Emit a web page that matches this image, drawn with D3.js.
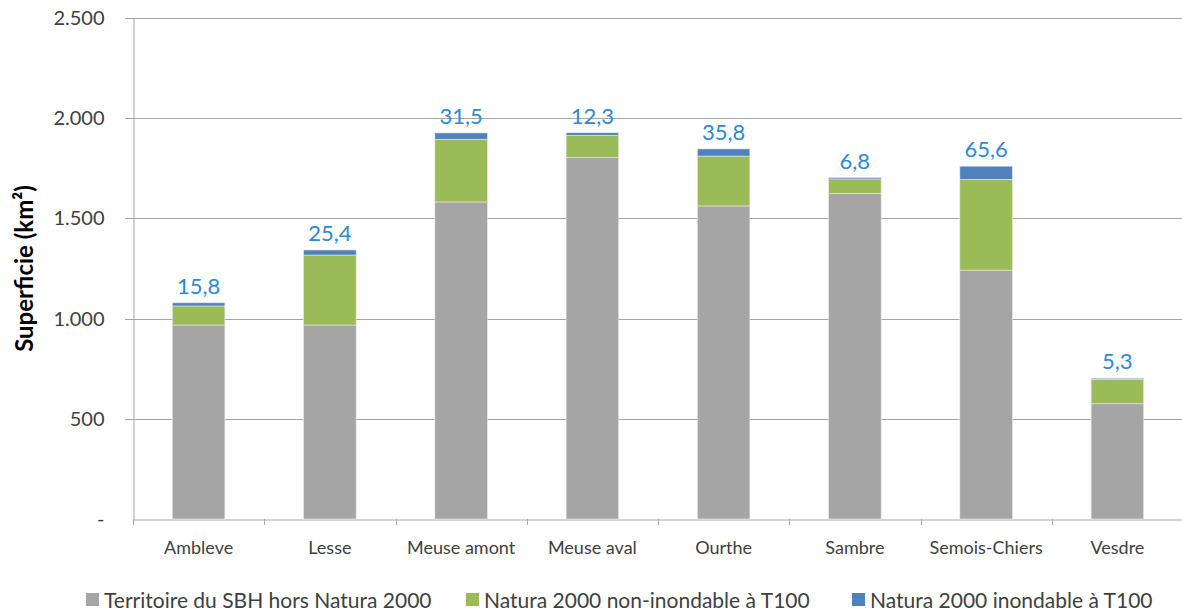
<!DOCTYPE html>
<html>
<head>
<meta charset="utf-8">
<script src="https://cdn.jsdelivr.net/npm/d3@7"></script>
<style>
  body { margin: 0; background: #fff; }
  svg, svg text { font-family: Lato, "Open Sans", sans-serif; }
</style>
</head>
<body>
<svg id="chart"></svg>
<script>
// bassins et surfaces (km²)
var categories = ["Ambleve", "Lesse", "Meuse amont", "Meuse aval", "Ourthe", "Sambre", "Semois-Chiers", "Vesdre"];
var horsNatura = [968, 968, 1582, 1805, 1562, 1625, 1242, 575];
var nonInondable = [95, 349, 313, 110, 249, 72, 453, 122];
var inondable = [15.8, 25.4, 31.5, 12.3, 35.8, 6.8, 65.6, 5.3];
var seriesNames = ["Territoire du SBH hors Natura 2000", "Natura 2000 non-inondable à T100", "Natura 2000 inondable à T100"];
var yTicks = [0, 500, 1000, 1500, 2000, 2500];

var colors = ["#a5a5a5", "#9bbb59", "#4f81bd"];

var W = 1182, H = 615;
var margin = { top: 18, right: 0, bottom: 96, left: 133 };

var svg = d3.select("#chart")
    .attr("width", W)
    .attr("height", H);

var x = d3.scaleBand()
    .domain(categories)
    .range([margin.left, 1183])
    .paddingInner(0.6)
    .paddingOuter(0.3);

var y = d3.scaleLinear()
    .domain([0, 2500])
    .range([H - margin.bottom, margin.top]);

var frLocale = d3.formatLocale({ decimal: ",", thousands: ".", grouping: [3], currency: ["", "€"] });
var fmtInt = frLocale.format(",.0f");
var fmtDec = frLocale.format(".1f");

// grille horizontale
svg.append("g")
    .selectAll("line")
    .data(yTicks.slice(1))
    .join("line")
    .attr("x1", margin.left - 8)
    .attr("x2", W)
    .attr("y1", function (d) { return Math.round(y(d)) + 0.5; })
    .attr("y2", function (d) { return Math.round(y(d)) + 0.5; })
    .attr("stroke", "#a6a6a6")
    .attr("stroke-width", 1);

// axe Y
var yAxis = d3.axisLeft(y)
    .tickValues(yTicks)
    .tickSize(0)
    .tickPadding(29)
    .tickFormat(function (d) { return d === 0 ? "-" : fmtInt(d); });

var gy = svg.append("g")
    .attr("transform", "translate(" + (margin.left + 0.5) + ",0)")
    .call(yAxis)
    .attr("font-family", null);
gy.select(".domain").attr("stroke", "#a6a6a6");
gy.selectAll("text")
    .attr("fill", "#404040")
    .style("font-size", "20px");

// axe X
var xAxis = d3.axisBottom(x).tickSize(0).tickPadding(22);
var gx = svg.append("g")
    .attr("transform", "translate(0," + (Math.round(y(0)) + 0.5) + ")")
    .call(xAxis)
    .attr("font-family", null);
gx.select(".domain").attr("stroke", "#a6a6a6");
gx.selectAll("text")
    .attr("fill", "#404040")
    .style("font-size", "18px");

// petites graduations aux limites des catégories
var step = x.step();
svg.append("g")
    .selectAll("line")
    .data(categories)
    .join("line")
    .attr("x1", function (c) { return Math.round(x(c) + x.bandwidth() / 2 - step / 2) + 0.5; })
    .attr("x2", function (c) { return Math.round(x(c) + x.bandwidth() / 2 - step / 2) + 0.5; })
    .attr("y1", y(0))
    .attr("y2", y(0) + 6)
    .attr("stroke", "#a6a6a6");

// barres empilées
var rows = categories.map(function (c, i) {
    return { cat: c, a: horsNatura[i], b: nonInondable[i], c: inondable[i] };
});
var stacked = d3.stack().keys(["a", "b", "c"])(rows);

svg.append("g")
    .selectAll("g")
    .data(stacked)
    .join("g")
    .attr("fill", function (d, i) { return colors[i]; })
    .selectAll("rect")
    .data(function (d) { return d; })
    .join("rect")
    .attr("x", function (d) { return x(d.data.cat); })
    .attr("width", x.bandwidth())
    .attr("y", function (d) { return y(d[1]); })
    .attr("height", function (d) { return y(d[0]) - y(d[1]); })
    .attr("stroke", "#e6e6e6")
    .attr("stroke-width", 0.6);

// étiquettes de la série inondable
svg.append("g")
    .selectAll("text")
    .data(rows)
    .join("text")
    .attr("x", function (d) { return x(d.cat) + x.bandwidth() / 2; })
    .attr("y", function (d) { return y(d.a + d.b + d.c) - 9; })
    .attr("text-anchor", "middle")
    .attr("fill", "#2b8ad6")
    .style("font-size", "22px")
    .text(function (d) { return fmtDec(d.c); });

// titre axe Y
svg.append("text")
    .attr("transform", "translate(33," + (y(0) + y(2500)) / 2 + ") rotate(-90)")
    .attr("text-anchor", "middle")
    .attr("fill", "#000")
    .style("font-size", "24px")
    .style("font-weight", "bold")
    .text("Superficie (km²)");

// légende
var legendX = [86, 466, 852];
var legend = svg.append("g");
seriesNames.forEach(function (name, i) {
    legend.append("rect")
        .attr("x", legendX[i])
        .attr("y", 593)
        .attr("width", 13)
        .attr("height", 13)
        .attr("fill", colors[i]);
    legend.append("text")
        .attr("x", legendX[i] + 18)
        .attr("y", 608)
        .attr("fill", "#404040")
        .style("font-size", "21px")
        .text(name);
});
</script>
</body>
</html>
